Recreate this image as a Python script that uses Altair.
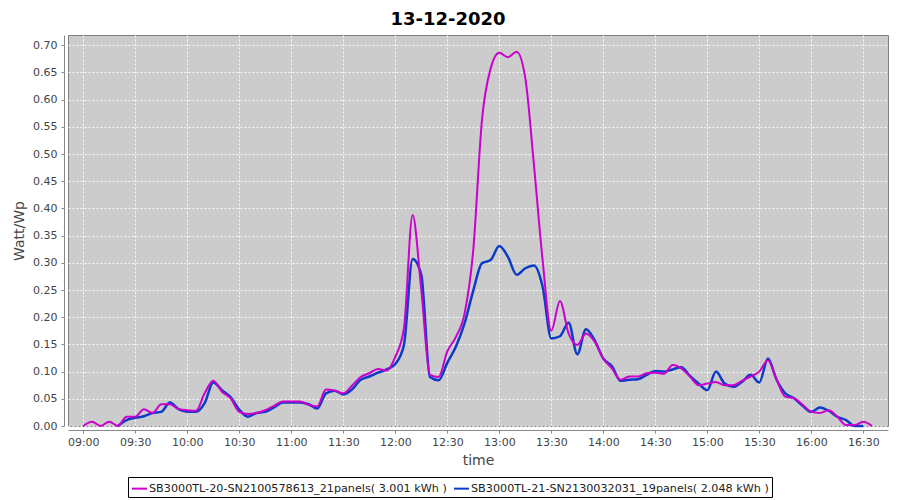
import altair as alt
import pandas as pd

TITLE = "13-12-2020"
S1 = "SB3000TL-20-SN2100578613_21panels( 3.001 kWh )"
S2 = "SB3000TL-21-SN2130032031_19panels( 2.048 kWh )"

times_m = ["09:00", "09:05", "09:10", "09:15", "09:20", "09:25", "09:30", "09:35", "09:40", "09:45",
           "09:50", "09:55", "10:00", "10:05", "10:10", "10:15", "10:20", "10:25", "10:30", "10:35",
           "10:40", "10:45", "10:50", "10:55", "11:00", "11:05", "11:10", "11:15", "11:20", "11:25",
           "11:30", "11:35", "11:40", "11:45", "11:50", "11:55", "12:00", "12:05", "12:10", "12:15",
           "12:20", "12:25", "12:30", "12:35", "12:40", "12:45", "12:50", "12:55", "13:00", "13:05",
           "13:10", "13:15", "13:20", "13:25", "13:30", "13:35", "13:40", "13:45", "13:50", "13:55",
           "14:00", "14:05", "14:10", "14:15", "14:20", "14:25", "14:30", "14:35", "14:40", "14:45",
           "14:50", "14:55", "15:00", "15:05", "15:10", "15:15", "15:20", "15:25", "15:30", "15:35",
           "15:40", "15:45", "15:50", "15:55", "16:00", "16:05", "16:10", "16:15", "16:20", "16:25",
           "16:30", "16:35"]
values_m = [0.000, 0.008, 0.000, 0.008, 0.000, 0.017, 0.017, 0.031, 0.024, 0.040,
            0.040, 0.031, 0.029, 0.028, 0.060, 0.083, 0.063, 0.051, 0.026, 0.022,
            0.024, 0.029, 0.037, 0.045, 0.045, 0.045, 0.039, 0.036, 0.067, 0.065,
            0.060, 0.074, 0.090, 0.097, 0.105, 0.102, 0.127, 0.180, 0.388, 0.250,
            0.094, 0.090, 0.137, 0.164, 0.207, 0.324, 0.562, 0.657, 0.686, 0.678,
            0.688, 0.640, 0.480, 0.305, 0.175, 0.230, 0.170, 0.149, 0.170, 0.155,
            0.124, 0.106, 0.085, 0.091, 0.091, 0.097, 0.098, 0.096, 0.112, 0.106,
            0.091, 0.075, 0.078, 0.081, 0.075, 0.075, 0.083, 0.091, 0.100, 0.121,
            0.085, 0.054, 0.051, 0.039, 0.026, 0.024, 0.029, 0.017, 0.002, 0.002,
            0.008, 0.000]

times_b = ["09:20", "09:25", "09:30", "09:35", "09:40", "09:45",
           "09:50", "09:55", "10:00", "10:05", "10:10", "10:15", "10:20", "10:25", "10:30", "10:35",
           "10:40", "10:45", "10:50", "10:55", "11:00", "11:05", "11:10", "11:15", "11:20", "11:25",
           "11:30", "11:35", "11:40", "11:45", "11:50", "11:55", "12:00", "12:05", "12:10", "12:15",
           "12:20", "12:25", "12:30", "12:35", "12:40", "12:45", "12:50", "12:55", "13:00", "13:05",
           "13:10", "13:15", "13:20", "13:25", "13:30", "13:35", "13:40", "13:45", "13:50", "13:55",
           "14:00", "14:05", "14:10", "14:15", "14:20", "14:25", "14:30", "14:35", "14:40", "14:45",
           "14:50", "14:55", "15:00", "15:05", "15:10", "15:15", "15:20", "15:25", "15:30", "15:35",
           "15:40", "15:45", "15:50", "15:55", "16:00", "16:05", "16:10", "16:15", "16:20", "16:25",
           "16:30"]
values_b = [0.000, 0.011, 0.015, 0.018, 0.024, 0.026,
            0.043, 0.031, 0.026, 0.026, 0.042, 0.080, 0.066, 0.053, 0.030, 0.017,
            0.024, 0.026, 0.034, 0.043, 0.043, 0.043, 0.040, 0.032, 0.060, 0.065,
            0.058, 0.067, 0.085, 0.091, 0.098, 0.104, 0.114, 0.149, 0.307, 0.278,
            0.090, 0.084, 0.116, 0.146, 0.189, 0.249, 0.299, 0.305, 0.331, 0.311,
            0.278, 0.290, 0.295, 0.256, 0.161, 0.165, 0.190, 0.132, 0.178, 0.158,
            0.124, 0.110, 0.083, 0.085, 0.086, 0.094, 0.101, 0.100, 0.104, 0.108,
            0.092, 0.078, 0.066, 0.100, 0.078, 0.072, 0.081, 0.094, 0.080, 0.124,
            0.085, 0.060, 0.051, 0.037, 0.026, 0.034, 0.028, 0.017, 0.011, 0.000,
            0.000]

y_ticks = [0.00, 0.05, 0.10, 0.15, 0.20, 0.25, 0.30, 0.35, 0.40, 0.45, 0.50, 0.55, 0.60, 0.65, 0.70]
x_tick_labels = ["09:00", "09:30", "10:00", "10:30", "11:00", "11:30", "12:00", "12:30",
                 "13:00", "13:30", "14:00", "14:30", "15:00", "15:30", "16:00", "16:30"]


def to_min(t):
    h, m = t.split(":")
    return int(h) * 60 + int(m)


rows = [{"t": to_min(t), "value": v, "series": S1} for t, v in zip(times_m, values_m)]
rows += [{"t": to_min(t), "value": v, "series": S2} for t, v in zip(times_b, values_b)]
df = pd.DataFrame(rows)

FONT = "DejaVu Sans"

x_dom = [to_min("08:51") + 0.2, to_min("16:44") + 0.25]
x_vals = [to_min(t) for t in x_tick_labels]

label_expr = ("(floor(datum.value/60) < 10 ? '0' : '') + floor(datum.value/60) + ':' + "
              "(datum.value % 60 < 10 ? '0' : '') + (datum.value % 60)")

color_scale = alt.Scale(domain=[S1, S2], range=["#cc00cc", "#0a3cc8"])

base = alt.Chart(df).encode(
    x=alt.X("t:Q", title="time",
            scale=alt.Scale(domain=x_dom, nice=False, zero=False),
            axis=alt.Axis(values=x_vals, labelExpr=label_expr,
                          offset=4, tickSize=3, labelPadding=3, titlePadding=6,
                          domainColor="#888888", tickColor="#888888",
                          labelColor="#444444", labelFont=FONT, labelFontSize=11,
                          titleFont=FONT, titleFontSize=14, titleFontWeight="normal",
                          titleColor="#444444",
                          gridColor="white", gridDash=[2, 2], gridOpacity=0.9)),
    y=alt.Y("value:Q", title="Watt/Wp",
            scale=alt.Scale(domain=[0, 0.7188], nice=False, zero=False),
            axis=alt.Axis(values=y_ticks, format=".2f",
                          offset=4, tickSize=3, labelPadding=4, titlePadding=6,
                          domainColor="#888888", tickColor="#888888",
                          labelColor="#444444", labelFont=FONT, labelFontSize=11,
                          titleFont=FONT, titleFontSize=14, titleFontWeight="normal",
                          titleColor="#444444",
                          gridColor="white", gridDash=[2, 2], gridOpacity=0.9)),
    color=alt.Color("series:N", scale=color_scale,
                    legend=alt.Legend(title=None, orient="none", legendX=60, legendY=442,
                                      direction="horizontal", symbolType="stroke",
                                      symbolStrokeWidth=2, symbolSize=225,
                                      labelFont=FONT, labelFontSize=11.2, labelColor="#222222",
                                      labelLimit=600, columnPadding=3, labelOffset=1,
                                      padding=3, strokeColor="#000000", fillColor="white")),
)

blue = base.transform_filter(alt.datum.series == S2).mark_line(
    interpolate="monotone", strokeWidth=2.5)
mag = base.transform_filter(alt.datum.series == S1).mark_line(
    interpolate="monotone", strokeWidth=2)

chart = alt.layer(blue, mag).properties(
    width=820, height=391,
    autosize=alt.AutoSizeParams(type="none"),
    padding={"left": 60, "top": 27, "right": 4, "bottom": 76},
    title=alt.TitleParams(TITLE, font=FONT, fontSize=18, fontWeight="bold",
                          color="black", anchor="middle", dx=-30, offset=6),
).configure_view(fill="#cccccc", stroke="#808080", strokeWidth=1)

chart.save("out.html", embed_options={"renderer": "svg", "actions": False})
